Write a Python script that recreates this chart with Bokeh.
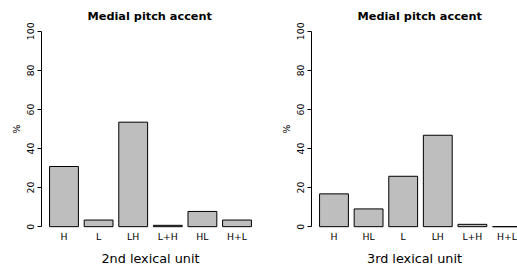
from bokeh.plotting import figure
from bokeh.layouts import row
from bokeh.models import Range1d, FixedTicker, ColumnDataSource
from bokeh.embed import file_html
from bokeh.resources import INLINE

# ---- data ----
labels_2nd = ["H", "L", "LH", "L+H", "HL", "H+L"]
values_2nd = [30.8, 3.4, 53.5, 0.7, 7.8, 3.4]

labels_3rd = ["H", "HL", "L", "LH", "L+H", "H+L"]
values_3rd = [16.8, 9.1, 25.8, 46.8, 1.2, 0.0]

y_ticks = [0, 20, 40, 60, 80, 100]
title_text = "Medial pitch accent"
xlab_2nd = "2nd lexical unit"
xlab_3rd = "3rd lexical unit"
ylab = "%"

FONT = "DejaVu Sans"


def panel(labels, values, xlab, x_start, x_end, frame_w, border_r):
    centers = [0.7 + 1.2 * i for i in range(len(labels))]
    src = ColumnDataSource(dict(x=centers, top=values))
    p = figure(frame_width=frame_w, frame_height=211,
               x_range=Range1d(x_start, x_end), y_range=Range1d(-4, 104),
               output_backend="svg", toolbar_location=None,
               min_border_left=41, min_border_right=border_r,
               min_border_top=23, min_border_bottom=34)
    p.outline_line_color = None
    p.xgrid.visible = False
    p.ygrid.visible = False
    p.background_fill_color = "white"
    p.border_fill_color = "white"

    p.vbar(x="x", top="top", bottom=0, width=1.0, source=src,
           fill_color="#BEBEBE", line_color="black", line_width=1)

    p.title.text = title_text
    p.title.align = "left"
    p.title.text_font = FONT
    p.title.text_font_size = "11.3px"
    p.title.text_font_style = "bold"
    p.title.text_color = "black"
    p.title.standoff = 2
    p.title.offset = 46

    xa = p.xaxis[0]
    xa.ticker = FixedTicker(ticks=centers)
    xa.major_label_overrides = {c: l for c, l in zip(centers, labels)}
    xa.axis_line_color = None
    xa.major_tick_line_color = None
    xa.minor_tick_line_color = None
    xa.major_label_standoff = -4
    xa.major_tick_out = 0
    xa.major_tick_in = 0
    xa.major_label_text_font = FONT
    xa.major_label_text_font_size = "9.3px"
    xa.major_label_text_color = "black"
    xa.axis_label = xlab
    xa.axis_label_text_font = FONT
    xa.axis_label_text_font_size = "12.8px"
    xa.axis_label_text_font_style = "normal"
    xa.axis_label_text_color = "black"
    xa.axis_label_standoff = 6

    ya = p.yaxis[0]
    ya.bounds = (0, 100)
    ya.ticker = FixedTicker(ticks=y_ticks)
    ya.major_tick_out = 4
    ya.major_tick_in = 0
    ya.minor_tick_line_color = None
    ya.axis_line_color = "black"
    ya.major_tick_line_color = "black"
    ya.major_label_orientation = "vertical"
    ya.major_label_standoff = 3
    ya.major_label_text_font = FONT
    ya.major_label_text_font_size = "9.3px"
    ya.major_label_text_color = "black"
    ya.axis_label = ylab
    ya.axis_label_text_font = FONT
    ya.axis_label_text_font_size = "9.3px"
    ya.axis_label_text_font_style = "normal"
    ya.axis_label_text_color = "black"
    ya.axis_label_standoff = 3
    return p


p1 = panel(labels_2nd, values_2nd, xlab_2nd, -0.08, 7.48, 218, 11)
p2 = panel(labels_3rd, values_3rd, xlab_3rd, -0.08, 7.065, 206, 0)

layout = row(p1, p2, spacing=0)
open("out.html", "w").write(file_html(layout, INLINE))
